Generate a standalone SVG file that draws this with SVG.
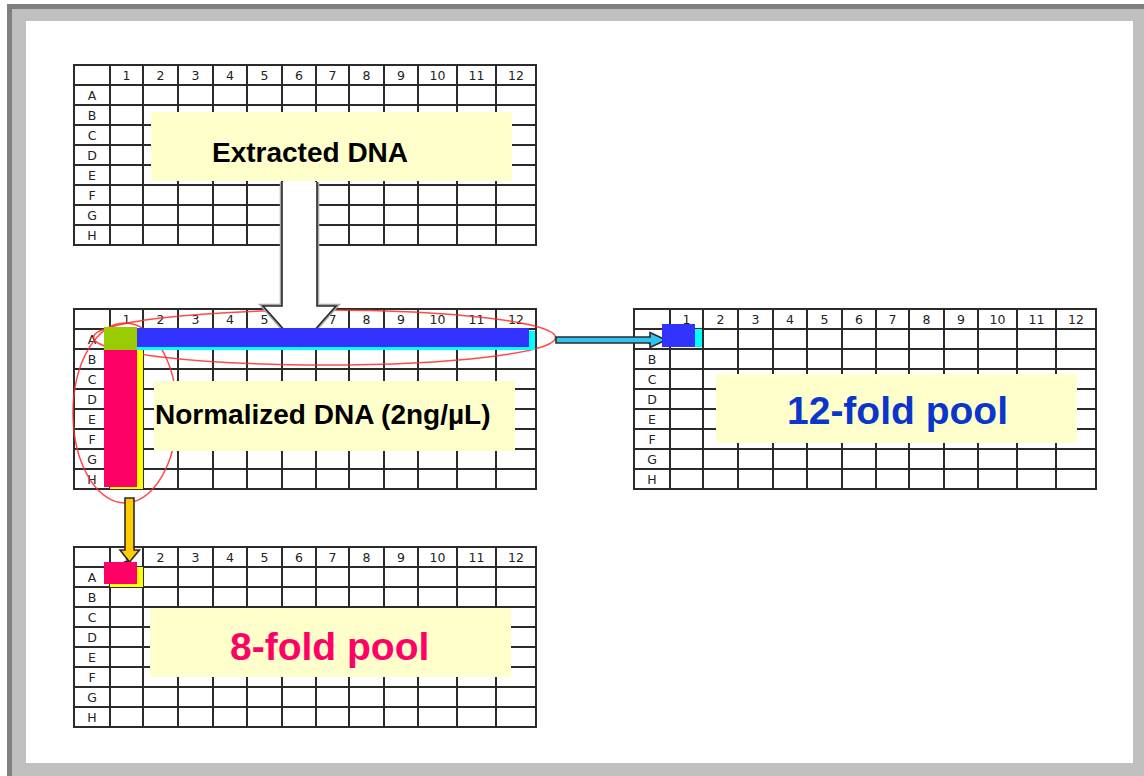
<svg xmlns="http://www.w3.org/2000/svg" xmlns:xlink="http://www.w3.org/1999/xlink" width="1144" height="776" viewBox="0 0 1144 776">
<style>
.gl{stroke:#2b2b2b;stroke-width:2;fill:none}
.hd{font-family:"DejaVu Sans",sans-serif;font-size:12.5px;fill:#222;text-anchor:middle}
.box{fill:#FFFFCC}
.lbl{font-family:"Liberation Sans",Arial,sans-serif;font-weight:bold}
.ell{fill:none;stroke:#ff2a2a;stroke-width:1.5;stroke-opacity:0.85}
.conn{stroke:#2b2b2b;stroke-width:1.6;stroke-linejoin:miter}
</style>
<defs>
<g id="grid">
<rect class="gl" x="0" y="0" width="462" height="180"/>
<path class="gl" d="M36,0V180M69,0V180M104,0V180M139,0V180M173,0V180M208,0V180M242,0V180M275,0V180M310,0V180M344,0V180M383,0V180M422,0V180M0,20H462M0,40H462M0,60H462M0,80H462M0,100H462M0,120H462M0,140H462M0,160H462"/>
</g>
</defs>
<g id="frame">
<rect width="1144" height="776" fill="#ffffff"/>
<rect x="7" y="4" width="1137" height="772" fill="#808080"/>
<rect x="12" y="9" width="1132" height="767" fill="#c0c0c0"/>
<rect x="26" y="21" width="1107" height="742" fill="#ffffff"/>
</g>

<g id="plate-extracted" transform="translate(74,65)">
<use xlink:href="#grid"/>
<text class="hd"><tspan x="52.5" y="15">1</tspan><tspan x="86.5" y="15">2</tspan><tspan x="121.5" y="15">3</tspan><tspan x="156" y="15">4</tspan><tspan x="190.5" y="15">5</tspan><tspan x="225" y="15">6</tspan><tspan x="258.5" y="15">7</tspan><tspan x="292.5" y="15">8</tspan><tspan x="327" y="15">9</tspan><tspan x="363.5" y="15">10</tspan><tspan x="402.5" y="15">11</tspan><tspan x="442" y="15">12</tspan></text>
<text class="hd"><tspan x="18" y="35">A</tspan><tspan x="18" y="55">B</tspan><tspan x="18" y="75">C</tspan><tspan x="18" y="95">D</tspan><tspan x="18" y="115">E</tspan><tspan x="18" y="135">F</tspan><tspan x="18" y="155">G</tspan><tspan x="18" y="175">H</tspan></text>
<rect class="box" x="77" y="47" width="361" height="69"/>
<text class="lbl" x="138" y="97" font-size="28" fill="#000">Extracted DNA</text>
</g>

<g id="plate-normalized" transform="translate(74,309)">
<use xlink:href="#grid"/>
<text class="hd"><tspan x="52.5" y="15">1</tspan><tspan x="86.5" y="15">2</tspan><tspan x="121.5" y="15">3</tspan><tspan x="156" y="15">4</tspan><tspan x="190.5" y="15">5</tspan><tspan x="225" y="15">6</tspan><tspan x="258.5" y="15">7</tspan><tspan x="292.5" y="15">8</tspan><tspan x="327" y="15">9</tspan><tspan x="363.5" y="15">10</tspan><tspan x="402.5" y="15">11</tspan><tspan x="442" y="15">12</tspan></text>
<text class="hd"><tspan x="18" y="35">A</tspan><tspan x="18" y="55">B</tspan><tspan x="18" y="75">C</tspan><tspan x="18" y="95">D</tspan><tspan x="18" y="115">E</tspan><tspan x="18" y="135">F</tspan><tspan x="18" y="155">G</tspan><tspan x="18" y="175">H</tspan></text>
<ellipse class="ell" cx="250.5" cy="28.5" rx="231" ry="27.5"/>
<ellipse class="ell" cx="51" cy="104" rx="52" ry="90"/>
<rect class="box" x="80" y="72" width="361" height="70"/>
<text class="lbl" x="81" y="115" font-size="28" fill="#000">Normalized DNA (2ng/µL)</text>
</g>

<g id="plate-12fold" transform="translate(634,309)">
<use xlink:href="#grid"/>
<text class="hd"><tspan x="52.5" y="15">1</tspan><tspan x="86.5" y="15">2</tspan><tspan x="121.5" y="15">3</tspan><tspan x="156" y="15">4</tspan><tspan x="190.5" y="15">5</tspan><tspan x="225" y="15">6</tspan><tspan x="258.5" y="15">7</tspan><tspan x="292.5" y="15">8</tspan><tspan x="327" y="15">9</tspan><tspan x="363.5" y="15">10</tspan><tspan x="402.5" y="15">11</tspan><tspan x="442" y="15">12</tspan></text>
<text class="hd"><tspan x="18" y="35">A</tspan><tspan x="18" y="55">B</tspan><tspan x="18" y="75">C</tspan><tspan x="18" y="95">D</tspan><tspan x="18" y="115">E</tspan><tspan x="18" y="135">F</tspan><tspan x="18" y="155">G</tspan><tspan x="18" y="175">H</tspan></text>
<rect class="box" x="82" y="65" width="361" height="69"/>
<text class="lbl" x="153" y="115" font-size="39" fill="#0a36cc">12-fold pool</text>
</g>

<g id="plate-8fold" transform="translate(74,547)">
<use xlink:href="#grid"/>
<text class="hd"><tspan x="52.5" y="15">1</tspan><tspan x="86.5" y="15">2</tspan><tspan x="121.5" y="15">3</tspan><tspan x="156" y="15">4</tspan><tspan x="190.5" y="15">5</tspan><tspan x="225" y="15">6</tspan><tspan x="258.5" y="15">7</tspan><tspan x="292.5" y="15">8</tspan><tspan x="327" y="15">9</tspan><tspan x="363.5" y="15">10</tspan><tspan x="402.5" y="15">11</tspan><tspan x="442" y="15">12</tspan></text>
<text class="hd"><tspan x="18" y="35">A</tspan><tspan x="18" y="55">B</tspan><tspan x="18" y="75">C</tspan><tspan x="18" y="95">D</tspan><tspan x="18" y="115">E</tspan><tspan x="18" y="135">F</tspan><tspan x="18" y="155">G</tspan><tspan x="18" y="175">H</tspan></text>
<rect class="box" x="76" y="61" width="361" height="69"/>
<text class="lbl" x="156" y="113" font-size="39" fill="#ff0066">8-fold pool</text>
</g>

<g id="connectors">
<path d="M282,182V306H263L299.5,347L336,306H317V182" fill="#ffffff" stroke="#a8a8a8" stroke-width="4.5"/>
<path class="conn" d="M282,182V306H263L299.5,347L336,306H317V182" fill="#ffffff" stroke-width="2"/>
<path class="conn" d="M556,337H650V332.5L666,340L650,347.5V343H556Z" fill="#2ec6f0"/>
<path class="conn" d="M125,498H134V550H139.5L129.5,562L120,550H125Z" fill="#ffcc00"/>
</g>

<g id="wells">
<rect x="110" y="331" width="425" height="19" fill="#00ffff"/>
<rect x="110" y="350" width="33" height="139" fill="#ffff00"/>
<rect x="104" y="327" width="33" height="23" fill="#99cc00"/>
<rect x="137" y="328" width="392" height="19" fill="#3333ff"/>
<rect x="104" y="350" width="33" height="137" fill="#ff0066"/>
<rect x="670" y="329" width="32" height="18" fill="#00ffff"/>
<rect x="662" y="324" width="33" height="23" fill="#3333ff"/>
<rect x="110" y="567" width="33" height="20" fill="#ffff00"/>
<rect x="104" y="562" width="33" height="22" fill="#ff0066"/>
</g>
</svg>
